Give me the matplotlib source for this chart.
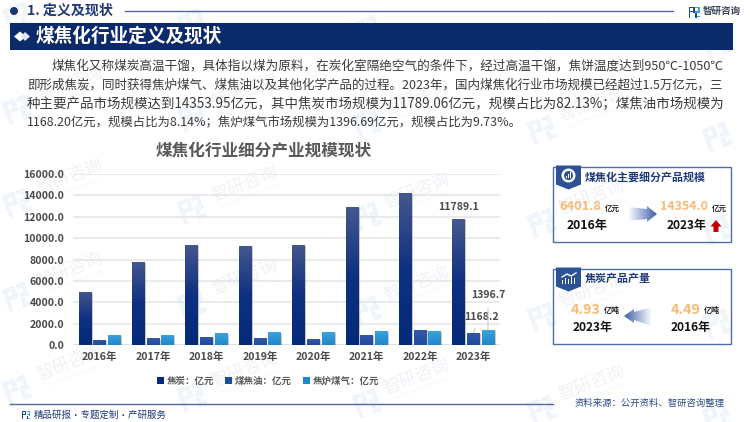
import numpy as np
import matplotlib
matplotlib.use('Agg')
import matplotlib.pyplot as plt
from matplotlib.patches import Rectangle, Polygon, Circle
from matplotlib.colors import LinearSegmentedColormap as LSC
from matplotlib.transforms import Affine2D
from matplotlib import patheffects as pe

plt.rcParams['font.family'] = ['Noto Sans CJK SC', 'DejaVu Sans']

years = ['2016年', '2017年', '2018年', '2019年', '2020年', '2021年', '2022年', '2023年']
coal = [4960, 7800, 9390, 9260, 9390, 12940, 14220, 11789.1]
tar = [470, 620, 780, 620, 560, 970, 1400, 1168.2]
gas = [970, 970, 1090, 1185, 1215, 1280, 1280, 1396.7]
series_names = ['焦炭：亿元', '煤焦油：亿元', '焦炉煤气：亿元']
yticks = [0, 2000, 4000, 6000, 8000, 10000, 12000, 14000, 16000]

body_lines = [
    '煤焦化又称煤炭高温干馏，具体指以煤为原料，在炭化室隔绝空气的条件下，经过高温干馏，焦饼温度达到950℃-1050℃',
    '即形成焦炭，同时获得焦炉煤气、煤焦油以及其他化学产品的过程。2023年，国内煤焦化行业市场规模已经超过1.5万亿元，三',
    '种主要产品市场规模达到14353.95亿元，其中焦炭市场规模为11789.06亿元，规模占比为82.13%；煤焦油市场规模为',
    '1168.20亿元，规模占比为8.14%；焦炉煤气市场规模为1396.69亿元，规模占比为9.73%。',
]

W, H = 750, 422
NAVY = '#0b2a6b'
fig = plt.figure(figsize=(7.5, 4.22), dpi=100, facecolor='white')
bg = fig.add_axes([0, 0, 1, 1], zorder=0)
bg.set_xlim(0, W); bg.set_ylim(H, 0); bg.axis('off')
rend = fig.canvas.get_renderer()


def put(x0, x1, y, s, color='#333333', weight='normal', z=5, fs=9):
    t = bg.text(x0, y, s, color=color, fontweight=weight, fontsize=fs, ha='left', va='center', zorder=z)
    t.set_fontsize(fs * (x1 - x0) / t.get_window_extent(rend).width)
    return t


def logo(cx, cy, size, rot, c1, c2, z=1):
    tr = Affine2D().scale(size).rotate_deg(rot).translate(cx, cy) + bg.transData
    for (x, y, w, h, c) in [(-.5, -.5, .18, 1, c1), (-.5, -.5, .45, .18, c1), (-.13, -.5, .18, .55, c1),
                            (-.5, -.13, .45, .16, c1), (.12, -.5, .38, .18, c2), (.32, -.5, .18, .62, c2),
                            (.12, -.1, .38, .16, c2), (.12, .32, .38, .18, c2), (.12, .1, .18, .4, c1)]:
        bg.add_patch(Rectangle((x, y), w, h, facecolor=c, edgecolor='none', transform=tr, zorder=z))


def gradient(x0, x1, y0, y1, colors, poly, horizontal=True, z=4):
    cm = LSC.from_list('g', colors)
    g = np.linspace(0, 1, 64)
    g = g[None, :] if horizontal else g[:, None]
    im = bg.imshow(g, cmap=cm, extent=[x0, x1, y1, y0], aspect='auto', zorder=z)
    p = Polygon(poly, closed=True, transform=bg.transData, facecolor='none', edgecolor='none')
    bg.add_patch(p)
    im.set_clip_path(p)
    bg.set_xlim(0, W); bg.set_ylim(H, 0)


# watermarks
WM = '#eff5fa'
for i, (cx, tx) in enumerate(zip([17, 192, 367, 542, 717], [70, 245, 417, 592, 767])):
    drift = 6.7 * i
    for ly in [17, 110, 203, 297, 390]:
        logo(cx, ly + drift, 24, -20, WM, WM)
    for ty in [84, 177, 270, 363]:
        yy = ty + drift
        if 18 < yy < 404 and tx < 715:
            bg.text(tx, yy, '智研咨询', color='#eff2f6', fontsize=12.5, rotation=21,
                    ha='center', va='center', zorder=1, rotation_mode='anchor')
            bg.text(tx + 5, yy + 12, 'INTELLIGENCE RESEARCH GROUP', color='#f3f5f8', fontsize=2.8,
                    rotation=21, ha='center', va='center', zorder=1, rotation_mode='anchor')

# header
bg.add_patch(Circle((14, 11), 4, facecolor='#1b3577', edgecolor='none', zorder=3))
put(27, 113, 11, '1. 定义及现状', '#1f3a7a', 'bold')
bg.plot([125, 673], [11, 11], color='#4f68a3', lw=1, zorder=3)
logo(694, 12, 11, 0, '#1c4a9c', '#3ea0dc', z=3)
put(703, 741, 11, '智研咨询', '#3b4658', 'bold')

# banner
bg.add_patch(Rectangle((10, 23), 723, 27, facecolor=NAVY, edgecolor='none', zorder=3))
bg.add_patch(Polygon([(14, 36.5), (20, 31.5), (26, 36.5), (20, 41.5)], facecolor='white', zorder=4))
bg.add_patch(Polygon([(21, 36.5), (25, 32), (30, 36.5), (25, 41)], facecolor='#dfe5f0', zorder=4))
put(36, 223, 36, '煤焦化行业定义及现状', 'white', 'bold')

# body
for (x0, x1, y), s in zip([(52, 724, 66.5), (27, 724, 85.5), (27, 724, 104), (27, 523, 123)], body_lines):
    put(x0, x1, y, s, '#3a3a3a')

# chart title
put(156, 372, 150, '煤焦化行业细分产业规模现状', '#595959', 'bold')

# footer
bg.plot([10, 553], [404, 404], color='#4f68a3', lw=1, zorder=3)
logo(26, 415, 8, 0, '#1c4a9c', '#3ea0dc', z=3)
put(34, 166, 415, '精品研报·专题定制·产研服务', '#1f3a7a')
put(575, 725, 403, '资料来源：公开资料、智研咨询整理', '#2c4a85')

# panels
BOX = '#4a6fa8'
for y0, y1 in [(167, 242), (269, 344)]:
    bg.add_patch(Rectangle((553, y0), 178, y1 - y0, facecolor='none', edgecolor=BOX, lw=1, zorder=3))
    top = y0 - 1.5
    bg.add_patch(Polygon([(556, top), (581, top), (581, top + 19), (568.5, top + 24), (556, top + 19)],
                         facecolor='#2c5295', edgecolor='none', zorder=4))
bg.add_patch(Circle((568.5, 175.5), 7, facecolor='white', zorder=5))
bg.add_patch(Circle((568.5, 175.5), 4.5, facecolor='#2c5295', zorder=6))
for dx, h in zip([-2, 0, 2], [2, 4, 6]):
    bg.add_patch(Rectangle((568.5 + dx - .6, 178 - h), 1.2, h, facecolor='white', zorder=7))
for dx, h in zip([-6, -3, 0, 3, 6], [4, 6, 5, 7, 6]):
    bg.add_patch(Rectangle((568.5 + dx - .9, 284 - h), 1.8, h, facecolor='white', zorder=5))
bg.plot([562, 567, 571, 576], [277, 274, 276, 273], color='white', lw=1, zorder=5)

ORANGE = '#f8bb74'
put(585, 706, 177, '煤焦化主要细分产品规模', '#1f3a7a', 'bold')
put(559, 601, 207, '6401.8', ORANGE, 'bold')
put(605, 620, 208, '亿元', '#222222', 'bold')
put(567, 608, 226, '2016年', '#111111', 'bold')
put(660, 708, 207, '14354.0', ORANGE, 'bold')
put(712, 727, 208, '亿元', '#222222', 'bold')
put(667, 707, 226, '2023年', '#111111', 'bold')
bg.add_patch(Polygon([(716, 220), (721.5, 226.5), (718.5, 226.5), (718.5, 232), (713.5, 232), (713.5, 226.5), (710.5, 226.5)],
                     facecolor='#c00000', edgecolor='none', zorder=5))
gradient(628, 657, 206, 222, ['#ffffff', '#3e5fa8'],
         [(628, 207), (647, 209), (647, 206), (657, 214), (647, 222), (647, 219), (628, 221)])

put(585, 651, 279, '焦炭产品产量', '#1f3a7a', 'bold')
put(571, 601, 310, '4.93', ORANGE, 'bold')
put(604, 620, 311, '亿吨', '#222222', 'bold')
put(573, 613, 328, '2023年', '#111111', 'bold')
put(671, 701, 310, '4.49', ORANGE, 'bold')
put(704, 720, 311, '亿吨', '#222222', 'bold')
put(671, 711, 328, '2016年', '#111111', 'bold')
gradient(624, 652, 307, 326, ['#3e5fa8', '#ffffff'],
         [(624, 316), (634, 309), (634, 312), (652, 307), (652, 326), (634, 320), (634, 323)])

# bar chart
ax = fig.add_axes([73 / W, 1 - 345 / H, (500 - 73) / W, (345 - 174) / H], zorder=2)
ax.patch.set_alpha(0)
x = np.arange(len(years))
bw, off = 0.235, 0.275
grads = [['#44578f', '#0f3080', '#032a78'], ['#3558a6', '#1f4c9e'], ['#3ba2dd', '#1e88ca']]
shadow = [pe.withSimplePatchShadow(offset=(1, -1), shadow_rgbFace='#888888', alpha=0.45)]
for i, (vals, name, gc) in enumerate(zip([coal, tar, gas], series_names, grads)):
    bars = ax.bar(x + (i - 1) * off, vals, bw, color=gc[-1], label=name, zorder=3, path_effects=shadow)
    cm = LSC.from_list('b', gc)
    for b in bars:
        im = ax.imshow(np.linspace(0, 1, 64)[:, None], cmap=cm, aspect='auto', zorder=4,
                       extent=[b.get_x(), b.get_x() + b.get_width(), 0, b.get_height()], origin='upper')
        im.set_clip_path(b)
ax.set_xlim(-0.5, len(years) - 0.5)
ax.set_ylim(0, 16000)
ax.set_aspect('auto')
ax.set_xticks(x, years)
ax.set_yticks(yticks, [f'{v:.1f}' for v in yticks])
ax.tick_params(axis='both', length=0, labelcolor='#4a4a4a', labelsize=7.6)
ax.tick_params(axis='y', pad=6.5)
ax.tick_params(axis='x', pad=5)
for lab in ax.get_xticklabels() + ax.get_yticklabels():
    lab.set_fontweight('bold')
for s in ax.spines.values():
    s.set_visible(False)
ax.grid(axis='y', color='#e6e6e6', lw=1.2, zorder=0)
ax.set_axisbelow(True)
ax.axhline(0, color='#dddddd', lw=1.2, zorder=1)

lab_style = dict(textcoords='offset points', ha='center', va='center', fontsize=7.6,
                 color='#4a4a4a', fontweight='bold', zorder=6, annotation_clip=False)
ax.annotate(f'{coal[-1]:.1f}', xy=(x[-1] - off, coal[-1]), xytext=(0, 8.6), **lab_style)
ax.annotate(f'{tar[-1]:.1f}', xy=(x[-1], tar[-1]), xytext=(5.8, 11.5),
            arrowprops=dict(arrowstyle='-', color='#c4c4c4', lw=0.7, shrinkA=3, shrinkB=0), **lab_style)
ax.annotate(f'{gas[-1]:.1f}', xy=(x[-1] + off, gas[-1]), xytext=(0, 25.5),
            arrowprops=dict(arrowstyle='-', color='#c4c4c4', lw=0.7, shrinkA=4, shrinkB=0), **lab_style)

leg = ax.legend(loc='center', bbox_to_anchor=((268 - 73) / 427, -36 / 171), ncol=3, frameon=False,
                prop=dict(size=6.8, weight='bold'),
                handlelength=0.75, handleheight=0.75, handletextpad=0.35, columnspacing=1.1,
                borderpad=0, labelcolor='#5a5a5a')
for h, gc in zip(leg.legend_handles, grads):
    h.set_path_effects([])
    h.set_facecolor(gc[-1])

fig.savefig('out.png', dpi=100, facecolor='white')
